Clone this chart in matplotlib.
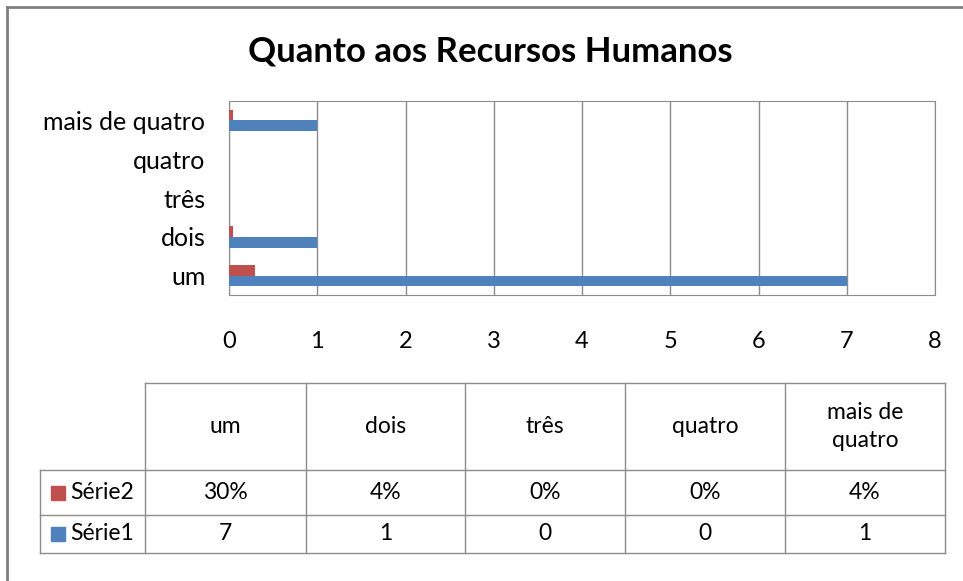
import matplotlib.pyplot as plt
from matplotlib.lines import Line2D
from matplotlib.patches import Rectangle

plt.rcParams['font.family'] = ['Lato', 'DejaVu Sans']

categories = ["um", "dois", "três", "quatro", "mais de quatro"]
header_labels = ["um", "dois", "três", "quatro", "mais de\nquatro"]
serie1 = [7, 1, 0, 0, 1]
serie2 = [0.30, 0.04, 0, 0, 0.04]
serie2_labels = ["30%", "4%", "0%", "0%", "4%"]
series_names = ["Série1", "Série2"]
blue = "#4F81BD"
red = "#C0504D"

W, H = 963, 581
fig = plt.figure(figsize=(W / 100, H / 100), dpi=100)


def fx(x):
    return x / W


def fy(y):
    return 1 - y / H


def hline(x0, x1, y, c="#8C8C8C", lw=1.0):
    fig.add_artist(Line2D([fx(x0), fx(x1)], [fy(y), fy(y)], color=c, lw=lw))


def vline(x, y0, y1, c="#8C8C8C", lw=1.0):
    fig.add_artist(Line2D([fx(x), fx(x)], [fy(y0), fy(y1)], color=c, lw=lw))


# outer frame
hline(7, W, 7, c="#808080", lw=2)
vline(7, 7, H, c="#808080", lw=2)

fig.text(fx(490), fy(52), "Quanto aos Recursos Humanos", ha="center", va="center",
         fontsize=25, fontweight="bold")

ax = fig.add_axes([fx(229), fy(295), fx(935) - fx(229), (295 - 101) / H])
y = range(len(categories))
h = 0.28
ax.barh([i - h / 2 for i in y], serie1, height=h, color=blue, zorder=3)
ax.barh([i + h / 2 for i in y], serie2, height=h, color=red, zorder=3)
ax.set_xlim(0, 8)
ax.set_ylim(-0.5, len(categories) - 0.5)
ax.set_xticks(range(9))
ax.set_yticks(list(y))
ax.set_yticklabels(categories)
ax.tick_params(axis="x", length=0, pad=26, labelsize=17)
ax.tick_params(axis="y", length=0, pad=17, labelsize=18)
ax.grid(axis="x", color="#8C8C8C", lw=1, zorder=0)
for s in ax.spines.values():
    s.set_color("#8C8C8C")

# data table
col_x = [145, 306, 465, 625, 785, 945]
row_y = [383, 470, 515, 553]
left = 40
fs = 16.5
hline(col_x[0], col_x[-1], row_y[0])
for yy in row_y[1:]:
    hline(left, col_x[-1], yy)
for xx in col_x:
    vline(xx, row_y[0], row_y[-1])
vline(left, row_y[1], row_y[-1])

for i in range(len(categories)):
    cx = (col_x[i] + col_x[i + 1]) / 2
    fig.text(fx(cx), fy((row_y[0] + row_y[1]) / 2), header_labels[i], ha="center",
             va="center", fontsize=fs, linespacing=1.4)
    fig.text(fx(cx), fy((row_y[1] + row_y[2]) / 2), serie2_labels[i], ha="center",
             va="center", fontsize=fs)
    fig.text(fx(cx), fy((row_y[2] + row_y[3]) / 2), str(serie1[i]), ha="center",
             va="center", fontsize=fs)

for name, color, r in [(series_names[1], red, 1), (series_names[0], blue, 2)]:
    cy = (row_y[r] + row_y[r + 1]) / 2
    fig.add_artist(Rectangle((fx(51), fy(cy + 7)), fx(14), 14 / H, color=color))
    fig.text(fx(70), fy(cy), name, ha="left", va="center", fontsize=fs)

fig.savefig("out.png", dpi=100)
